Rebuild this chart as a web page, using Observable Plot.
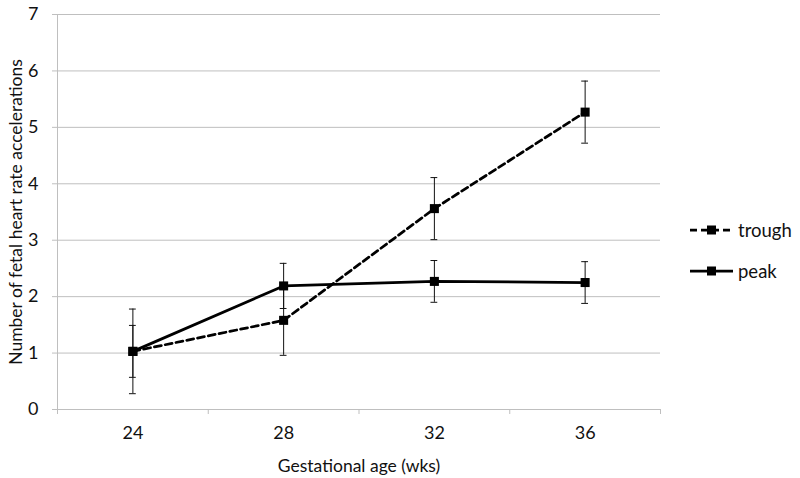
<!DOCTYPE html>
<html>
<head>
<meta charset="utf-8">
<script src="https://cdn.jsdelivr.net/npm/d3@7"></script>
<script src="https://cdn.jsdelivr.net/npm/@observablehq/plot@0.6"></script>
<style>
  html, body { margin: 0; padding: 0; background: #fff; }
  #wrap { position: relative; width: 800px; height: 478px; font-family: Lato, "Open Sans", sans-serif; }
  #legend { position: absolute; left: 688px; top: 216px; font-size: 18.5px; color: #111; }
  .row { display: flex; align-items: center; height: 28px; margin-bottom: 13px; }
  .row span { margin-left: 4px; }
</style>
</head>
<body>
<div id="wrap"></div>
<script>
// Data
const ages = [24, 28, 32, 36];
const troughMean = [1.03, 1.58, 3.56, 5.27];
const troughErr  = [0.75, 0.62, 0.55, 0.55];
const peakMean   = [1.03, 2.19, 2.27, 2.25];
const peakErr    = [0.46, 0.40, 0.37, 0.37];
const seriesNames = ["trough", "peak"];
const yTicks = [0, 1, 2, 3, 4, 5, 6, 7];
const boundaryTicks = [22, 26, 30, 34, 38];

const trough = ages.map((a, i) => ({x: a, y: troughMean[i], lo: troughMean[i] - troughErr[i], hi: troughMean[i] + troughErr[i]}));
const peak = ages.map((a, i) => ({x: a, y: peakMean[i], lo: peakMean[i] - peakErr[i], hi: peakMean[i] + peakErr[i]}));
const all = trough.concat(peak);
const cap = 0.09;
const grid = "#bfbfbf";

const chart = Plot.plot({
  width: 800,
  height: 478,
  marginLeft: 57,
  marginRight: 140,
  marginTop: 14,
  marginBottom: 69,
  style: {fontFamily: "Lato, 'Open Sans', sans-serif", fontSize: "17.5px", color: "#111", background: "#fff"},
  x: {domain: [22, 38]},
  y: {domain: [0, 7]},
  marks: [
    Plot.ruleY(yTicks.slice(1), {stroke: grid, strokeWidth: 1}),
    Plot.ruleY([0], {stroke: grid, strokeWidth: 1}),
    Plot.ruleX([22], {stroke: grid, strokeWidth: 1}),
    Plot.axisY({ticks: yTicks, tickSize: 5, tickPadding: 14, stroke: grid, tickFormat: d => d, fontSize: 18, label: null}),
    Plot.axisY({ticks: [], tickSize: 0, label: "Number of fetal heart rate accelerations", labelAnchor: "center", labelArrow: "none", labelOffset: 48, fill: "#111"}),
    Plot.axisX({ticks: boundaryTicks, tickSize: 5, tickFormat: () => "", stroke: grid, label: null}),
    Plot.axisX({ticks: ages, tickSize: 0, tickPadding: 17, tickFormat: d => d, fontSize: 18, label: null}),
    Plot.axisX({ticks: [], tickSize: 0, label: "Gestational age (wks)", labelAnchor: "center", labelArrow: "none", labelOffset: 62, fill: "#111"}),
    // error bars
    Plot.ruleX(all, {x: "x", y1: "lo", y2: "hi", stroke: "#111", strokeWidth: 1}),
    Plot.ruleY(all, {y: "hi", x1: d => d.x - cap, x2: d => d.x + cap, stroke: "#111", strokeWidth: 1}),
    Plot.ruleY(all, {y: "lo", x1: d => d.x - cap, x2: d => d.x + cap, stroke: "#111", strokeWidth: 1}),
    // lines
    Plot.line(trough, {x: "x", y: "y", stroke: "#000", strokeWidth: 2.75, strokeDasharray: "7,4"}),
    Plot.line(peak, {x: "x", y: "y", stroke: "#000", strokeWidth: 2.75}),
    Plot.dot(all, {x: "x", y: "y", symbol: "square", r: 5.1, fill: "#000", stroke: "none"})
  ]
});
document.getElementById("wrap").appendChild(chart);

// Legend (HTML)
const legend = document.createElement("div");
legend.id = "legend";
seriesNames.forEach(name => {
  const row = document.createElement("div");
  row.className = "row";
  const dash = name === "trough" ? 'stroke-dasharray="7,4"' : "";
  row.innerHTML = `<svg width="46" height="14"><line x1="2" y1="7" x2="45" y2="7" stroke="#000" stroke-width="2.75" ${dash}/><rect x="19" y="2.5" width="9" height="9" fill="#000"/></svg><span>${name}</span>`;
  legend.appendChild(row);
});
document.getElementById("wrap").appendChild(legend);
</script>
</body>
</html>
